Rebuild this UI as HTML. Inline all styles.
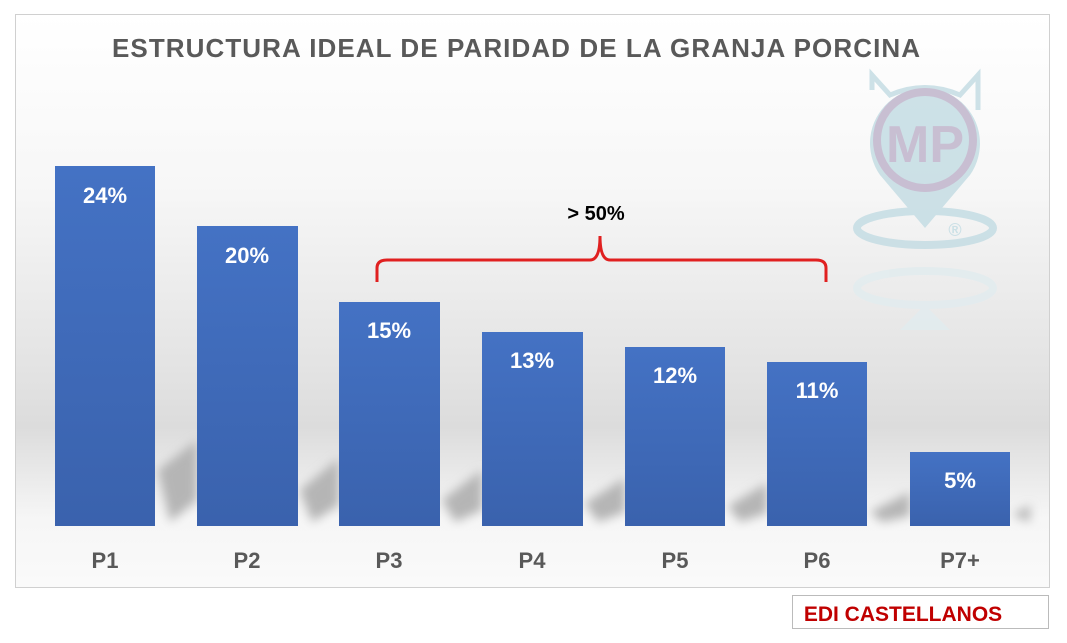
<!DOCTYPE html>
<html><head><meta charset="utf-8"><style>
body{margin:0;width:1067px;height:643px;background:#fff;overflow:hidden}
svg{display:block}
text{font-family:"Liberation Sans",sans-serif;font-weight:bold}
</style></head><body>
<svg width="1067" height="643" viewBox="0 0 1067 643">
<defs>
<linearGradient id="bg" x1="0" y1="0" x2="0" y2="1">
<stop offset="0" stop-color="#ffffff"/>
<stop offset="0.3" stop-color="#f7f7f7"/>
<stop offset="0.62" stop-color="#e3e3e3"/>
<stop offset="0.72" stop-color="#dcdcdc"/>
<stop offset="0.88" stop-color="#f6f6f6"/>
<stop offset="1" stop-color="#fafafa"/>
</linearGradient>
<linearGradient id="bar" x1="0" y1="0" x2="0" y2="1">
<stop offset="0" stop-color="#4472c4"/>
<stop offset="1" stop-color="#3a62ad"/>
</linearGradient>
<filter id="bl"><feGaussianBlur stdDeviation="5"/></filter>
</defs>
<rect x="15.5" y="14.5" width="1034" height="573" fill="url(#bg)" stroke="#d0d0d0"/>
<g fill="#b5b5b5" filter="url(#bl)">
<polygon points="158,470 197,440 197,500 170,522"/>
<polygon points="300,490 339,458 339,505 312,522"/>
<polygon points="442,500 482,470 482,510 455,522"/>
<polygon points="585,503 625,478 625,512 598,522"/>
<polygon points="728,506 767,483 767,513 740,522"/>
<polygon points="870,512 910,492 910,516 882,522"/>
<polygon points="1012,515 1030,505 1030,522"/>
</g>
<text x="112" y="57" font-size="26" fill="#595959" textLength="808" lengthAdjust="spacing">ESTRUCTURA IDEAL DE PARIDAD DE LA GRANJA PORCINA</text>
<g opacity="0.85">
<path d="M872 90 L872 75 L890 95 Q925 80 960 95 L978 75 L978 110" fill="none" stroke="#c5dde4" stroke-width="5"/>
<ellipse cx="925" cy="228" rx="68" ry="17" fill="none" stroke="#c5dde4" stroke-width="8"/>
<path d="M925 228 L880 175 A55 55 0 1 1 970 175 Z" fill="#c5dde4"/>
<circle cx="925" cy="140" r="48" fill="none" stroke="#c0b5cc" stroke-width="8"/>
<text x="925" y="162" font-size="52" fill="#c0b5cc" text-anchor="middle">MP</text>
<text x="955" y="236" font-size="18" fill="#c5dde4" text-anchor="middle">®</text>
<ellipse cx="925" cy="288" rx="68" ry="17" fill="none" stroke="#e2ecef" stroke-width="8"/>
<polygon points="900,330 925,305 950,330" fill="#e2ecef"/>
</g>
<g fill="url(#bar)">
<rect x="55" y="166" width="100" height="360"/>
<rect x="197" y="226" width="101" height="300"/>
<rect x="339" y="302" width="101" height="224"/>
<rect x="482" y="332" width="101" height="194"/>
<rect x="625" y="347" width="100" height="179"/>
<rect x="767" y="362" width="100" height="164"/>
<rect x="910" y="452" width="100" height="74"/>
</g>
<g fill="#fff" font-size="22" text-anchor="middle">
<text x="105" y="203">24%</text>
<text x="247" y="263">20%</text>
<text x="389" y="338">15%</text>
<text x="532" y="368">13%</text>
<text x="675" y="383">12%</text>
<text x="817" y="398">11%</text>
<text x="960" y="488">5%</text>
</g>
<g fill="#595959" font-size="22" text-anchor="middle">
<text x="105" y="568">P1</text>
<text x="247" y="568">P2</text>
<text x="389" y="568">P3</text>
<text x="532" y="568">P4</text>
<text x="675" y="568">P5</text>
<text x="817" y="568">P6</text>
<text x="960" y="568">P7+</text>
</g>
<path d="M377 282 L377 268 Q377 260 387 260 L590 260 Q600 260 600 236 Q600 260 610 260 L816 260 Q826 260 826 268 L826 282" fill="none" stroke="#e02020" stroke-width="3"/>
<text x="596" y="220" font-size="20" fill="#000" text-anchor="middle">&gt; 50%</text>
<rect x="792.5" y="595.5" width="256" height="33" fill="#fff" stroke="#bbb"/>
<text x="903" y="621" font-size="21" fill="#c00000" text-anchor="middle">EDI CASTELLANOS</text>
</svg>
</body></html>
